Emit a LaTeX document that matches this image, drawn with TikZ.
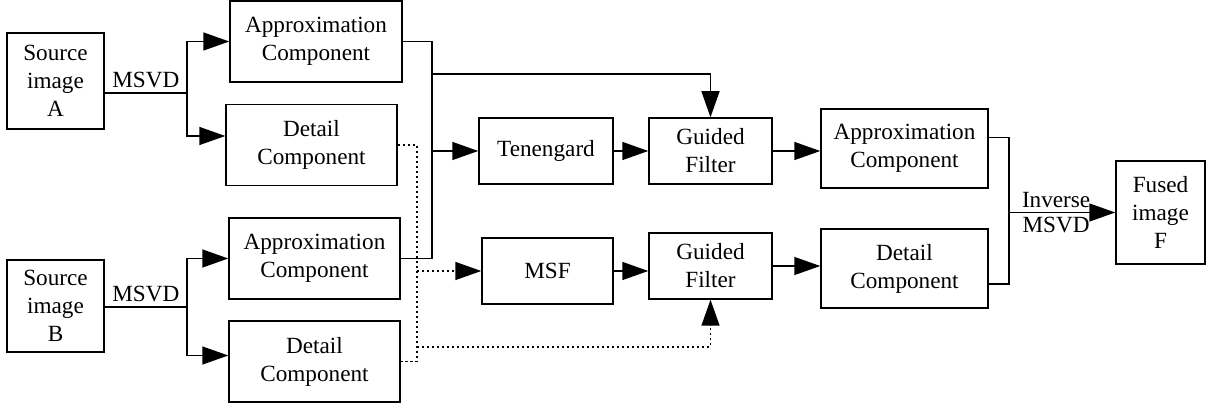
\documentclass[tikz,border=0pt]{standalone}
\usepackage{fontspec}
\setmainfont{Liberation Serif}
\usepackage{tikz}
\usetikzlibrary{arrows.meta}
\usetikzlibrary{positioning}

\begin{document}
\begin{tikzpicture}[x=0.5pt,y=-0.5pt,->,>={Triangle[length=13pt,width=9pt]},line width=0.75pt,
    font=\fontsize{11.6}{14}\selectfont,
    box node/.style={draw,rectangle,align=center,inner sep=0pt,-},
    dot line/.style={dash pattern=on 1.2pt off 1.3pt}]
   \useasboundingbox (0,0) rectangle (1209,410);
   \begin{scope}
     % sources
     \node[box node,minimum width=48.5pt,minimum height=48pt] (srcA) at (55.5,81) {Source\\image\\A};
     \node[box node,minimum width=48.5pt,minimum height=46pt] (srcB) at (55.5,306) {Source\\image\\B};
     % decomposition
     \node[box node,minimum width=86pt,minimum height=40.5pt] (apxA) at (316,41.5) {Approximation\\Component};
     \node[box node,minimum width=85.5pt,minimum height=40.5pt] (detA) at (311.5,145) {Detail\\Component};
     \node[box node,minimum width=85.5pt,minimum height=40.5pt] (apxB) at (314.5,258.5) {Approximation\\Component};
     \node[box node,minimum width=85.5pt,minimum height=40.5pt] (detB) at (314.5,361.5) {Detail\\Component};
     % fusion rules
     \node[box node,minimum width=67pt,minimum height=33pt] (ten) at (546,151) {Tenengard};
     \node[box node,minimum width=65.5pt,minimum height=33pt] (msf) at (547.5,271) {MSF};
     \node[box node,minimum width=61.5pt,minimum height=33pt] (gfA) at (710.5,151) {Guided\\Filter};
     \node[box node,minimum width=61.5pt,minimum height=33pt] (gfB) at (710.5,266) {Guided\\Filter};
     % fused components
     \node[box node,minimum width=83.5pt,minimum height=39.5pt] (apxF) at (904.5,148.5) {Approximation\\Component};
     \node[box node,minimum width=83.5pt,minimum height=39.5pt] (detF) at (904.5,268.5) {Detail\\Component};
     \node[box node,minimum width=44.5pt,minimum height=51.5pt] (fused) at (1160.5,212.5) {Fused\\image\\F};

     \coordinate (jA) at (187,93);
     \coordinate (jB) at (187,307);
     \coordinate (bus) at (432,151);
     \coordinate (tap) at (432,74);
     \coordinate (dbus) at (417,271);
     \coordinate (dtap) at (417,347);
     \coordinate (obus) at (1009,212.5);

     % MSVD of A and B
     \path[-] ([yshift=-6pt]srcA.east) edge node[above,inner sep=2pt] {MSVD} (jA);
     \draw (jA) -- (jA |- apxA.west) -- (apxA.west);
     \draw (jA) |- ([yshift=4.5pt]detA.west);
     \path[-] (srcB.east |- jB) edge node[above,inner sep=2pt] {MSVD} (jB);
     \draw (jB) -- (jB |- apxB.west) -- (apxB.west);
     \draw (jB) |- ([yshift=3pt]detB.west);

     % approximation parts
     \draw[-] (apxA.east) -| (bus) |- (apxB.east);
     \draw (bus) -- (ten.west);
     \draw (tap) -| (gfA.north);
     \draw (ten.east) -- (gfA.west);

     % detail parts
     \draw[-,dot line] (detA.east) -| (dbus) |- (detB.east);
     \draw[dot line] (dbus) -- (msf.west);
     \draw[dot line] (dtap) -| (gfB.south);
     \draw (msf.east) -- (gfB.west |- msf.east);

     \draw (gfA.east) -- (apxF.west |- gfA.east);
     \draw (gfB.east) -- (detF.west |- gfB.east);

     % inverse MSVD
     \draw[-] ([yshift=5.5pt]apxF.east) -| (obus) |- ([yshift=-7.75pt]detF.east);
     \draw (obus) -- node[above,inner sep=2pt,xshift=-3pt] {Inverse} node[below,inner sep=2pt,xshift=-3pt] {MSVD} (fused.west);
   \end{scope}
\end{tikzpicture}
\end{document}
